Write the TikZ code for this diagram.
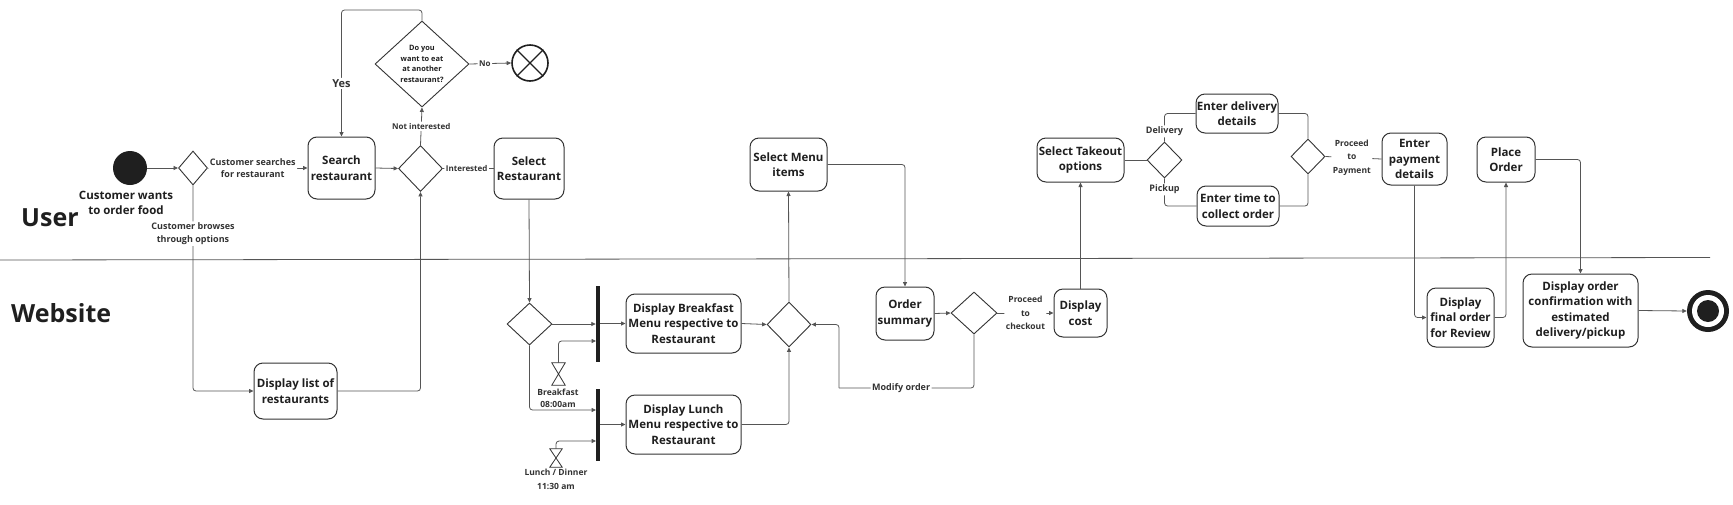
\documentclass[tikz,border=0pt]{standalone}
\usepackage{fontspec}
\setmainfont{Open Sans}
\usetikzlibrary{shapes.geometric,arrows.meta}
\definecolor{linec}{HTML}{555555}
\definecolor{boxc}{HTML}{333333}
\definecolor{txt}{HTML}{1F1F1F}
\definecolor{labc}{HTML}{333333}
\begin{document}
\begin{tikzpicture}[x=1pt,y=-1pt,
  box/.style={draw=boxc, line width=1pt, rounded corners=9pt, align=center, inner sep=0pt, text=txt, font=\fontsize{11.5}{15.5}\selectfont\bfseries},
  dia/.style={diamond, draw=boxc, line width=0.9pt, inner sep=0pt},
  conn/.style={draw=linec, line width=0.8pt, rounded corners=3pt},
  arr/.style={conn, -{Triangle[length=4.5pt,width=4pt]}},
  lbl/.style={fill=white, inner sep=1.5pt, text=labc, align=center, font=\fontsize{9}{12.5}\selectfont\bfseries},
  slbl/.style={lbl, font=\fontsize{8}{10}\selectfont\bfseries},
  barn/.style={fill=txt, inner sep=0pt, minimum width=4pt},
  hgn/.style={inner sep=0pt},
  hgd/.style={draw=boxc, line width=0.8pt}
]
\fill[white] (0,0) rectangle (1733,504);
\useasboundingbox (0,0) rectangle (1733,504);

% swimlane
\coordinate (laneL) at (0,260);
\coordinate (laneR) at (1710,257.5);
\draw[linec, line width=0.8pt] (laneL) -- (laneR);
\node[font=\fontsize{25}{30}\selectfont\bfseries, text=txt, anchor=west, inner sep=0pt] (user) at (21,218) {User};
\node[font=\fontsize{25}{30}\selectfont\bfseries, text=txt, anchor=west, inner sep=0pt] (website) at (11,313) {Website};

% nodes
\node[circle, fill=txt, minimum size=34pt, inner sep=0pt] (start) at (130,168) {};
\node[text=txt, align=center, font=\fontsize{11.5}{15.5}\selectfont\bfseries, inner sep=0pt] (starttxt) at (126,203) {Customer wants\\to order food};
\node[dia, minimum width=29pt, minimum height=34pt] (d1) at (193,168) {};
\node[box, minimum width=67pt, minimum height=62pt] (search) at (341.5,168) {Search\\restaurant};
\node[dia, minimum width=44pt, minimum height=46pt] (d2) at (420.5,168.5) {};
\node[box, minimum width=70pt, minimum height=61pt] (select) at (529,168.5) {Select\\Restaurant};
\node[dia, minimum width=94pt, minimum height=86pt] (dq) at (422,64) {};
\node[font=\fontsize{7.4}{10.5}\selectfont\bfseries, align=center, text=txt, inner sep=0pt] (dqt) at (422,64) {Do you\\want to eat\\at another\\restaurant?};
\node[circle, draw=txt, line width=1.6pt, minimum size=36pt, inner sep=0pt] (xend) at (530,63) {};
\draw[txt, line width=1.4pt] (xend.north west) -- (xend.south east) (xend.north east) -- (xend.south west);
\node[box, minimum width=83pt, minimum height=56pt] (dlist) at (295.5,391) {Display list of\\restaurants};
\node[dia, minimum width=45pt, minimum height=42pt] (d3) at (529.5,324) {};
\node[barn, minimum height=76pt] (bar1) at (598,324) {};
\node[barn, minimum height=72pt] (bar2) at (598,425) {};
\node[hgn, minimum width=13pt, minimum height=22pt] (hg1) at (558.5,374) {};
\draw[hgd] (hg1.north west) -- (hg1.north east) -- (hg1.south west) -- (hg1.south east) -- cycle;
\node[hgn, minimum width=12pt, minimum height=18pt] (hg2) at (556,458) {};
\draw[hgd] (hg2.north west) -- (hg2.north east) -- (hg2.south west) -- (hg2.south east) -- cycle;
\node[box, minimum width=115pt, minimum height=59pt] (bfm) at (683.5,323.5) {Display Breakfast\\Menu respective to\\Restaurant};
\node[box, minimum width=115pt, minimum height=59pt] (lnm) at (683.5,424.5) {Display Lunch\\Menu respective to\\Restaurant};
\node[dia, minimum width=44pt, minimum height=45pt] (dm) at (789,324.5) {};
\node[box, minimum width=77pt, minimum height=53pt] (smi) at (788.5,164.5) {Select Menu\\items};
\node[box, minimum width=58pt, minimum height=53pt] (osum) at (905,313.5) {Order\\summary};
\node[dia, minimum width=46pt, minimum height=42pt] (d4) at (974,313) {};
\node[box, minimum width=53pt, minimum height=48pt] (dcost) at (1080.5,313) {Display\\cost};
\node[box, minimum width=87pt, minimum height=44pt] (stake) at (1080.5,160) {Select Takeout\\options};
\node[dia, minimum width=35pt, minimum height=36pt] (d5) at (1164.5,160) {};
\node[box, minimum width=82pt, minimum height=39pt] (edel) at (1237,113.5) {Enter delivery\\details};
\node[box, minimum width=82pt, minimum height=40pt] (etime) at (1238,206) {Enter time to\\collect order};
\node[dia, minimum width=34pt, minimum height=35pt] (d6) at (1308,156.5) {};
\node[box, minimum width=65pt, minimum height=52pt] (epay) at (1414.5,159) {Enter\\payment\\details};
\node[box, minimum width=67pt, minimum height=59pt] (dfinal) at (1460.5,317.5) {Display\\final order\\for Review};
\node[box, minimum width=58pt, minimum height=45pt] (place) at (1506,159.5) {Place\\Order};
\node[box, minimum width=115pt, minimum height=73pt] (dconf) at (1580.5,310.5) {Display order\\confirmation with\\estimated\\delivery/pickup};
\node[circle, fill=txt, minimum size=42pt, inner sep=0pt] (endc) at (1708,311) {};
\fill[white] (endc.center) circle (16pt);
\fill[txt] (endc.center) circle (11pt);

% helper coordinates
\coordinate (yc) at (422,10);
\coordinate (b1in) at (596,341);
\coordinate (b2in) at (596,410);
\coordinate (b2in2) at (596,441);
\coordinate (modc) at (839,388);

% connectors
\draw[arr] (start) -- (d1.west);
\draw[arr] (d1.east) -- node[lbl, pos=0.45] (lsearch) {Customer searches\\for restaurant} (search.west);
\draw[arr] (search.east) -- (d2.west);
\draw[conn] (d2.east) -- node[slbl, pos=0.47] (lint) {Interested} (select.west);
\draw[arr] (d2.north) -- node[slbl, pos=0.5] (lnot) {Not interested} (dq.south);
\draw[arr] (dq.east) -- node[slbl, pos=0.37] (lno) {No} (xend.west);
\draw[arr] (dq.north) -- (yc) -| node[lbl, pos=0.79, font=\fontsize{11}{13}\selectfont\bfseries] (lyes) {Yes} (search.north);
\draw[arr] (d1.south) |- node[lbl, pos=0.117] (lbrowse) {Customer browses\\through options} (dlist.west);
\draw[arr] (dlist.east) -| (d2.south);
\draw[arr] (select.south) -- (d3.north);
\draw[arr] (d3.east) -- (bar1.west);
\draw[arr] (bar1.east |- bfm.west) -- (bfm.west);
\draw[arr] (hg1.north) |- (b1in);
\draw[arr] (d3.south) |- (b2in);
\draw[arr] (hg2.north) |- (b2in2);
\draw[arr] (bar2.east |- lnm.west) -- (lnm.west);
\draw[arr] (bfm.east) -- (dm.west);
\draw[arr] (lnm.east) -| (dm.south);
\draw[arr] (dm.north) -- (smi.south);
\draw[arr] (smi.east) -| (osum.north);
\draw[arr] (osum.east) -- (d4.west);
\draw[arr] (d4.east) -- node[lbl, pos=0.5, font=\fontsize{8.5}{13.5}\selectfont\bfseries] (lcheck) {Proceed\\to\\checkout} (dcost.west);
\draw[conn] (d4.south) |- node[lbl, pos=0.77] (lmod) {Modify order} (modc);
\draw[arr] (modc) |- (dm.east);
\draw[arr] (dcost.north) -- (stake.south);
\draw[conn] (stake.east) -- (d5.west);
\draw[conn] (d5.north) |- node[lbl, pos=0.18] (ldel) {Delivery} (edel.west);
\draw[conn] (d5.south) |- node[lbl, pos=0.2] (lpick) {Pickup} (etime.west);
\draw[conn] (edel.east) -| (d6.north);
\draw[conn] (etime.east) -| (d6.south);
\draw[conn] (d6.east) -- node[lbl, pos=0.47, font=\fontsize{8.5}{13.5}\selectfont\bfseries] (lpay) {Proceed\\to\\Payment} (epay.west);
\draw[arr] (epay.south) |- (dfinal.west);
\draw[arr] (dfinal.east) -| (place.south);
\draw[arr] (place.east) -| (dconf.north);
\draw[arr] (dconf.east) -- (endc.west);

% timer labels
\node[text=labc, align=center, font=\fontsize{8.5}{12.5}\selectfont\bfseries, inner sep=0pt] (tbreak) at (558,398.5) {Breakfast\\08:00am};
\node[text=labc, align=center, font=\fontsize{8.5}{14}\selectfont\bfseries, inner sep=0pt] (tlunch) at (556,479) {Lunch / Dinner\\11:30 am};
\end{tikzpicture}
\end{document}
